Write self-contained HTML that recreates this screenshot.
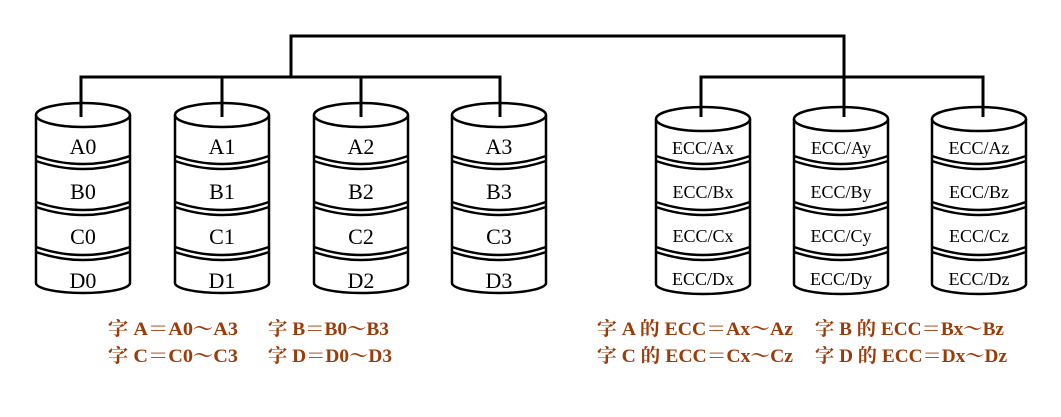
<!DOCTYPE html>
<html><head><meta charset="utf-8">
<style>
html,body{margin:0;padding:0;background:#fff;}
svg{display:block;}
.l{font-family:"Liberation Serif","Noto Serif CJK SC",serif;font-size:22px;fill:#000;text-anchor:middle;}
.e{font-family:"Liberation Serif","Noto Serif CJK SC",serif;font-size:18px;fill:#000;text-anchor:middle;}
.r{font-family:"Liberation Serif","Noto Serif CJK SC",serif;font-size:19px;font-weight:bold;fill:#9a3b0a;}
</style></head><body>
<svg id="s" width="1061" height="417" viewBox="0 0 1061 417" xmlns="http://www.w3.org/2000/svg">
<g id="shapes" fill="none" stroke="#000" stroke-width="2.5"></g>
<g fill="none" stroke="#000" stroke-width="3">
<path d="M291 77 V36 H844 V117"/>
<path d="M81 117 V77 H500 V117 M222 77 V117 M361 77 V117"/>
<path d="M701 117 V77 H983 V117"/>
</g>
<text class="l" x="83" y="154">A0</text><text class="l" x="83" y="199">B0</text><text class="l" x="83" y="244">C0</text><text class="l" x="83" y="288">D0</text>
<text class="l" x="222" y="154">A1</text><text class="l" x="222" y="199">B1</text><text class="l" x="222" y="244">C1</text><text class="l" x="222" y="288">D1</text>
<text class="l" x="361" y="154">A2</text><text class="l" x="361" y="199">B2</text><text class="l" x="361" y="244">C2</text><text class="l" x="361" y="288">D2</text>
<text class="l" x="499" y="154">A3</text><text class="l" x="499" y="199">B3</text><text class="l" x="499" y="244">C3</text><text class="l" x="499" y="288">D3</text>
<text class="e" x="703" y="154">ECC/Ax</text><text class="e" x="703" y="198">ECC/Bx</text><text class="e" x="703" y="242">ECC/Cx</text><text class="e" x="703" y="285">ECC/Dx</text>
<text class="e" x="841" y="154">ECC/Ay</text><text class="e" x="841" y="198">ECC/By</text><text class="e" x="841" y="242">ECC/Cy</text><text class="e" x="841" y="285">ECC/Dy</text>
<text class="e" x="979" y="154">ECC/Az</text><text class="e" x="979" y="198">ECC/Bz</text><text class="e" x="979" y="242">ECC/Cz</text><text class="e" x="979" y="285">ECC/Dz</text>
<text class="r" x="108" y="335" textLength="130" lengthAdjust="spacingAndGlyphs">字 A＝A0～A3</text>
<text class="r" x="268" y="335" textLength="121" lengthAdjust="spacingAndGlyphs">字 B＝B0～B3</text>
<text class="r" x="108" y="362" textLength="130" lengthAdjust="spacingAndGlyphs">字 C＝C0～C3</text>
<text class="r" x="268" y="362" textLength="124" lengthAdjust="spacingAndGlyphs">字 D＝D0～D3</text>
<text class="r" x="597" y="335" textLength="196" lengthAdjust="spacingAndGlyphs">字 A 的 ECC＝Ax～Az</text>
<text class="r" x="815" y="335" textLength="189" lengthAdjust="spacingAndGlyphs">字 B 的 ECC＝Bx～Bz</text>
<text class="r" x="597" y="362" textLength="196" lengthAdjust="spacingAndGlyphs">字 C 的 ECC＝Cx～Cz</text>
<text class="r" x="815" y="362" textLength="192" lengthAdjust="spacingAndGlyphs">字 D 的 ECC＝Dx～Dz</text>
</svg>
<script>
var g=document.getElementById('shapes');var ns='http://www.w3.org/2000/svg';
function P(d){var p=document.createElementNS(ns,'path');p.setAttribute('d',d);g.appendChild(p);}
function cyl(cx,top,bot){var rx=47,ry=12,x0=cx-rx,x1=cx+rx,cy=top+ry;
P('M'+x0+' '+cy+' A'+rx+' '+ry+' 0 1 1 '+x1+' '+cy+' A'+rx+' '+ry+' 0 1 1 '+x0+' '+cy);
P('M'+x0+' '+cy+' V'+(bot-ry)+' A'+rx+' '+(ry-2)+' 0 0 0 '+x1+' '+(bot-ry)+' V'+cy);
[156,202,247].forEach(function(y){
P('M'+x0+' '+y+' Q'+cx+' '+(y+16)+' '+x1+' '+y);
P('M'+x0+' '+(y+5)+' Q'+cx+' '+(y+21)+' '+x1+' '+(y+5));});}
[83,222,361,499].forEach(function(c){cyl(c,103,295);});
[703,841,979].forEach(function(c){cyl(c,107,296);});
</script>
</body></html>
